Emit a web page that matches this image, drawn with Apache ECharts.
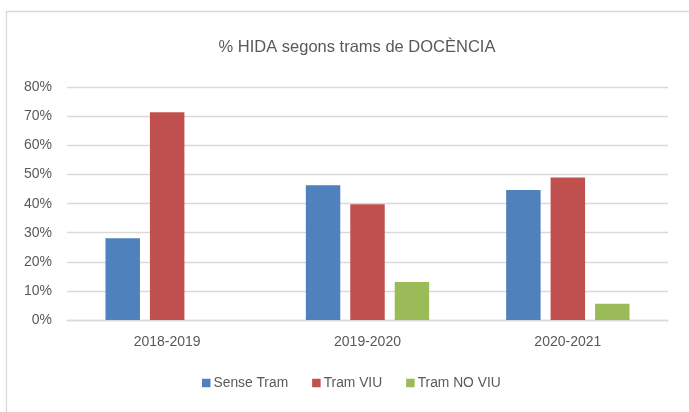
<!DOCTYPE html>
<html>
<head>
<meta charset="utf-8">
<script src="https://cdn.jsdelivr.net/npm/echarts@6/dist/echarts.min.js"></script>
<style>
  html, body { margin: 0; padding: 0; background: #ffffff; }
  #chart { width: 689px; height: 412px; }
</style>
</head>
<body>
<div id="chart"></div>
<script>
// Academic years on the category axis
const categories = ['2018-2019', '2019-2020', '2020-2021'];

// Share of HIDA per teaching-tranche group (percent)
const senseTram = [28.1, 46.3, 44.7];
const tramViu = [71.4, 39.8, 49.0];
const tramNoViu = [null, 13.1, 5.6];

const seriesNames = ['Sense Tram', 'Tram VIU', 'Tram NO VIU'];
const seriesColors = ['#4F81BD', '#C0504D', '#9BBB59'];

const chartTitle = '% HIDA segons trams de DOCÈNCIA';

const FONT = '"Liberation Sans", Arial, sans-serif';
const TEXT = '#595959';

const chart = echarts.init(document.getElementById('chart'), null, { renderer: 'canvas' });

function barSeries(name, data, color) {
  return {
    name: name,
    type: 'bar',
    data: data,
    barWidth: '17.2%',
    barGap: '29%',
    itemStyle: { color: color },
    emphasis: { disabled: true }
  };
}

chart.setOption({
  animation: false,
  backgroundColor: '#ffffff',
  title: {
    text: chartTitle,
    left: 352,
    textAlign: 'center',
    top: 34,
    textStyle: { fontFamily: FONT, fontSize: 16.5, fontWeight: 'normal', color: TEXT }
  },
  legend: {
    top: 376,
    left: 202,
    padding: 0,
    itemWidth: 8.5,
    itemHeight: 8.5,
    itemGap: 24,
    icon: 'rect',
    textStyle: { fontFamily: FONT, fontSize: 13.8, color: TEXT, padding: [0, 0, 0, -2] },
    data: seriesNames
  },
  grid: { left: 67, right: 21, top: 87.3, bottom: 92, containLabel: false },
  xAxis: {
    type: 'category',
    data: categories,
    axisLine: { show: true, lineStyle: { color: '#D9D9D9', width: 1.3 } },
    axisTick: { show: false },
    axisLabel: { fontFamily: FONT, fontSize: 14, color: TEXT, margin: 15 }
  },
  yAxis: {
    type: 'value',
    min: 0,
    max: 80,
    interval: 10,
    axisLine: { show: false },
    axisTick: { show: false },
    splitLine: { lineStyle: { color: '#D9D9D9', width: 1.3 } },
    axisLabel: { fontFamily: FONT, fontSize: 14, color: TEXT, margin: 15, formatter: '{value}%' }
  },
  graphic: [
    {
      type: 'polyline',
      shape: { points: [[6.5, 412], [6.5, 11.5], [689, 11.5]] },
      style: { stroke: '#D9D9D9', lineWidth: 1.3, fill: null },
      silent: true
    }
  ],
  series: [
    barSeries(seriesNames[0], senseTram, seriesColors[0]),
    barSeries(seriesNames[1], tramViu, seriesColors[1]),
    barSeries(seriesNames[2], tramNoViu, seriesColors[2])
  ]
});
</script>
</body>
</html>
